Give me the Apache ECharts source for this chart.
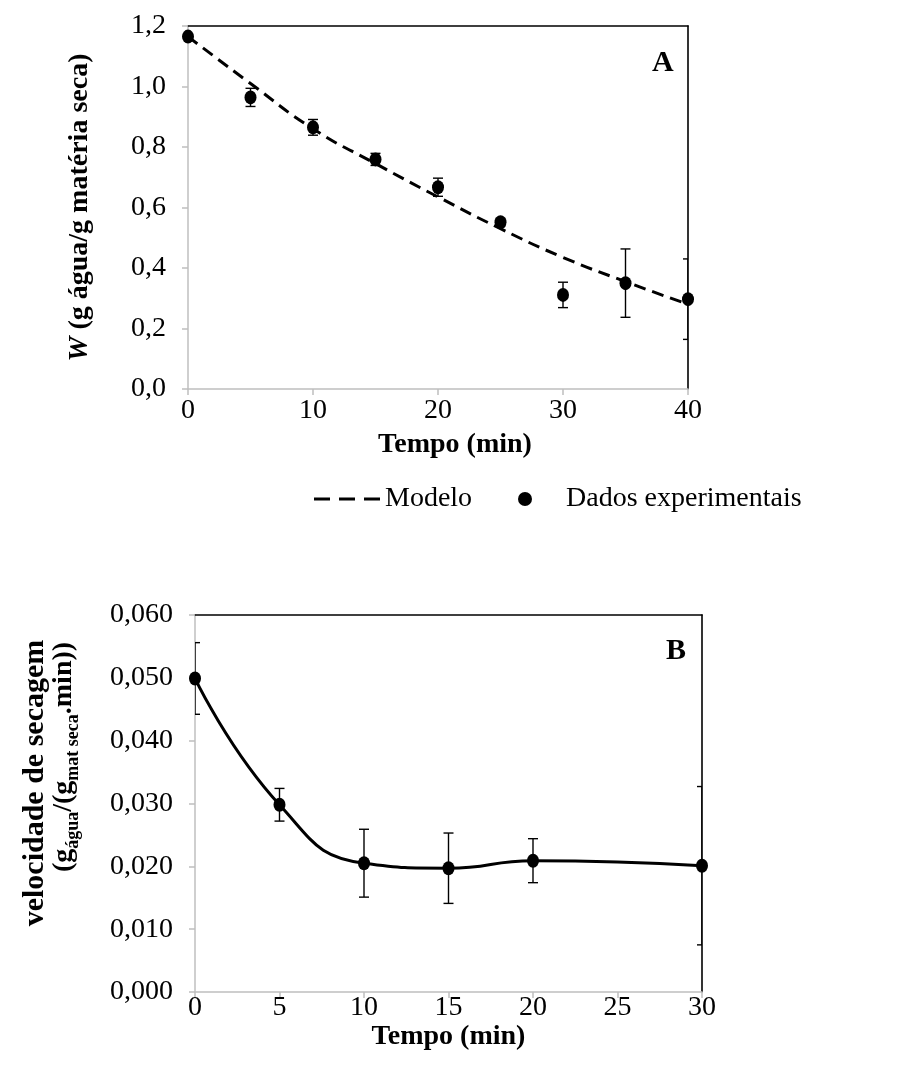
<!DOCTYPE html>
<html>
<head>
<meta charset="utf-8">
<script src="https://cdn.jsdelivr.net/npm/echarts@6/dist/echarts.min.js"></script>
<style>
html,body{margin:0;padding:0;background:#fff;}
#main{width:915px;height:1066px;}
</style>
</head>
<body>
<div id="main"></div>
<script>
// ---- Data ----
const timeA = [0, 5, 10, 15, 20, 25, 30, 35, 40];
const wExp = [1.165, 0.964, 0.865, 0.759, 0.667, 0.551, 0.311, 0.350, 0.297];
const wErr = [0.008, 0.030, 0.026, 0.020, 0.030, 0.012, 0.042, 0.113, 0.133];
const modelT = [0, 5, 10, 15, 20, 25, 30, 35, 40];
const modelW = [1.165, 1.010, 0.860, 0.745, 0.635, 0.530, 0.435, 0.355, 0.280];

const timeB = [0, 5, 10, 15, 20, 30];
const rate = [0.0499, 0.0298, 0.0205, 0.0197, 0.0209, 0.0201];
const rateErr = [0.0057, 0.0026, 0.0054, 0.0056, 0.0035, 0.0126];

const FONT = "'Liberation Serif', 'Times New Roman', serif";
const GREY = '#bfbfbf';

const chart = echarts.init(document.getElementById('main'), null, {renderer: 'canvas'});

function errRender(params, api) {
  const x = api.value(0), lo = api.value(1), hi = api.value(2);
  const pHi = api.coord([x, hi]);
  const pLo = api.coord([x, lo]);
  const w = 5;
  const st = {stroke: '#000', lineWidth: 1.4};
  return {
    type: 'group',
    children: [
      {type: 'line', shape: {x1: pHi[0], y1: pHi[1], x2: pLo[0], y2: pLo[1]}, style: st},
      {type: 'line', shape: {x1: pHi[0] - w, y1: pHi[1], x2: pHi[0] + w, y2: pHi[1]}, style: st},
      {type: 'line', shape: {x1: pLo[0] - w, y1: pLo[1], x2: pLo[0] + w, y2: pLo[1]}, style: st}
    ]
  };
}

function bottomX(gi, max, interval, margin, gap, pad) {
  return {
    gridIndex: gi, type: 'value', min: 0, max: max, interval: interval, position: 'bottom',
    axisLine: {onZero: false, lineStyle: {color: GREY, width: 1.5}},
    axisTick: {show: true, inside: false, length: 6, lineStyle: {color: GREY, width: 1.5}},
    axisLabel: {margin: margin, fontSize: 28, color: '#000', fontFamily: FONT},
    splitLine: {show: false},
    name: 'Tempo (min)', nameLocation: 'middle', nameGap: gap,
    nameTextStyle: {fontSize: 28, fontWeight: 'bold', color: '#000', fontFamily: FONT, padding: pad}
  };
}
function topX(gi, max) {
  return {
    gridIndex: gi, type: 'value', min: 0, max: max, position: 'top',
    axisLine: {onZero: false, lineStyle: {color: '#000', width: 1.6}},
    axisTick: {show: false}, axisLabel: {show: false}, splitLine: {show: false}
  };
}
function rightY(gi, max) {
  return {
    gridIndex: gi, type: 'value', min: 0, max: max, position: 'right',
    axisLine: {show: true, onZero: false, lineStyle: {color: '#000', width: 1.6}},
    axisTick: {show: false}, axisLabel: {show: false}, splitLine: {show: false}
  };
}

const titleRich = {
  b: {fontSize: 28, fontWeight: 'bold', fontFamily: FONT, color: '#000', lineHeight: 32, verticalAlign: 'top'},
  s: {fontSize: 18, fontWeight: 'bold', fontFamily: FONT, color: '#000', lineHeight: 16, verticalAlign: 'bottom'}
};

const option = {
  animation: false,
  backgroundColor: '#fff',
  grid: [
    {left: 188, right: 227, top: 26, height: 363},
    {left: 195, right: 213, top: 615, height: 377}
  ],
  legend: [
    {
      data: [{name: 'Modelo', icon: 'path://M0,0h16v3h-16z M25,0h16v3h-16z M50,0h16v3h-16z'}],
      left: 309, top: 480, itemWidth: 66, itemHeight: 3,
      selectedMode: false,
      itemStyle: {color: '#000'},
      textStyle: {fontSize: 28, color: '#000', fontFamily: FONT}
    },
    {
      data: [{name: 'Dados experimentais', icon: 'circle'}],
      left: 513, top: 480, itemWidth: 14, itemHeight: 14,
      selectedMode: false,
      itemStyle: {color: '#000'},
      formatter: name => '{sp| }' + name,
      textStyle: {fontSize: 28, color: '#000', fontFamily: FONT, rich: {sp: {width: 29, fontSize: 28}}}
    }
  ],
  xAxis: [
    bottomX(0, 40, 10, 8, 42, [0, 0, 0, 34]),
    topX(0, 40),
    bottomX(1, 30, 5, 2, 18, 0),
    topX(1, 30)
  ],
  yAxis: [
    {
      gridIndex: 0, type: 'value', min: 0, max: 1.2, interval: 0.2, position: 'left',
      axisLine: {show: true, onZero: false, lineStyle: {color: GREY, width: 1.5}},
      axisTick: {show: true, inside: false, length: 6, lineStyle: {color: GREY, width: 1.5}},
      axisLabel: {margin: 22, fontSize: 28, color: '#000', fontFamily: FONT,
        formatter: v => v.toFixed(1).replace('.', ',')},
      splitLine: {show: false},
      name: '{i|W}{b| (g água/g matéria seca)}', nameLocation: 'middle', nameGap: 94, nameRotate: 90,
      nameTextStyle: {
        color: '#000', fontFamily: FONT,
        rich: {
          i: {fontSize: 28, fontWeight: 'bold', fontStyle: 'italic', fontFamily: FONT, color: '#000'},
          b: {fontSize: 28, fontWeight: 'bold', fontFamily: FONT, color: '#000'}
        }
      }
    },
    rightY(0, 1.2),
    {
      gridIndex: 1, type: 'value', min: 0, max: 0.06, interval: 0.01, position: 'left',
      axisLine: {show: true, onZero: false, lineStyle: {color: GREY, width: 1.5}},
      axisTick: {show: true, inside: false, length: 6, lineStyle: {color: GREY, width: 1.5}},
      axisLabel: {margin: 22, fontSize: 28, color: '#000', fontFamily: FONT,
        formatter: v => v.toFixed(3).replace('.', ',')},
      splitLine: {show: false}
    },
    rightY(1, 0.06)
  ],
  graphic: [
    {type: 'text', left: 652, top: 48, style: {text: 'A', fontSize: 30, fontWeight: 'bold', fontFamily: FONT, fill: '#000'}},
    {type: 'text', left: 666, top: 636, style: {text: 'B', fontSize: 30, fontWeight: 'bold', fontFamily: FONT, fill: '#000'}},
    {type: 'text', x: 35, y: 783, rotation: Math.PI / 2,
      style: {text: 'velocidade de secagem', fontSize: 30, fontWeight: 'bold', fontFamily: FONT, fill: '#000',
        align: 'center', verticalAlign: 'middle'}},
    {type: 'text', x: 66, y: 757, rotation: Math.PI / 2,
      style: {text: '{b|(g}{s|água}{b|/(g}{s|mat seca}{b|.min))}', rich: titleRich,
        fontFamily: FONT, fill: '#000', align: 'center', verticalAlign: 'middle'}}
  ],
  series: [
    {
      name: 'Modelo', type: 'line', xAxisIndex: 0, yAxisIndex: 0,
      data: modelT.map((t, i) => [t, modelW[i]]),
      smooth: true, symbol: 'none', clip: false,
      lineStyle: {color: '#000', width: 3, type: [12, 7]},
      itemStyle: {color: '#000'}, z: 3
    },
    {
      type: 'custom', xAxisIndex: 0, yAxisIndex: 0, renderItem: errRender, clip: true,
      encode: {x: 0, y: [1, 2]},
      data: timeA.map((t, i) => [t, wExp[i] - wErr[i], wExp[i] + wErr[i]]), z: 4
    },
    {
      name: 'Dados experimentais', type: 'scatter', xAxisIndex: 0, yAxisIndex: 0,
      data: timeA.map((t, i) => [t, wExp[i]]),
      symbol: 'circle', symbolSize: [12, 14], clip: false,
      itemStyle: {color: '#000', opacity: 1}, z: 5
    },
    {
      type: 'custom', xAxisIndex: 2, yAxisIndex: 2, renderItem: errRender, clip: true,
      encode: {x: 0, y: [1, 2]},
      data: timeB.map((t, i) => [t, rate[i] - rateErr[i], rate[i] + rateErr[i]]), z: 4
    },
    {
      name: 'velocidade', type: 'line', xAxisIndex: 2, yAxisIndex: 2,
      data: timeB.map((t, i) => [t, rate[i]]),
      smooth: 0.5, symbol: 'circle', symbolSize: [12, 14], showAllSymbol: true, clip: false,
      lineStyle: {color: '#000', width: 3},
      itemStyle: {color: '#000', opacity: 1}, z: 5
    }
  ]
};
chart.setOption(option);
</script>
</body>
</html>
